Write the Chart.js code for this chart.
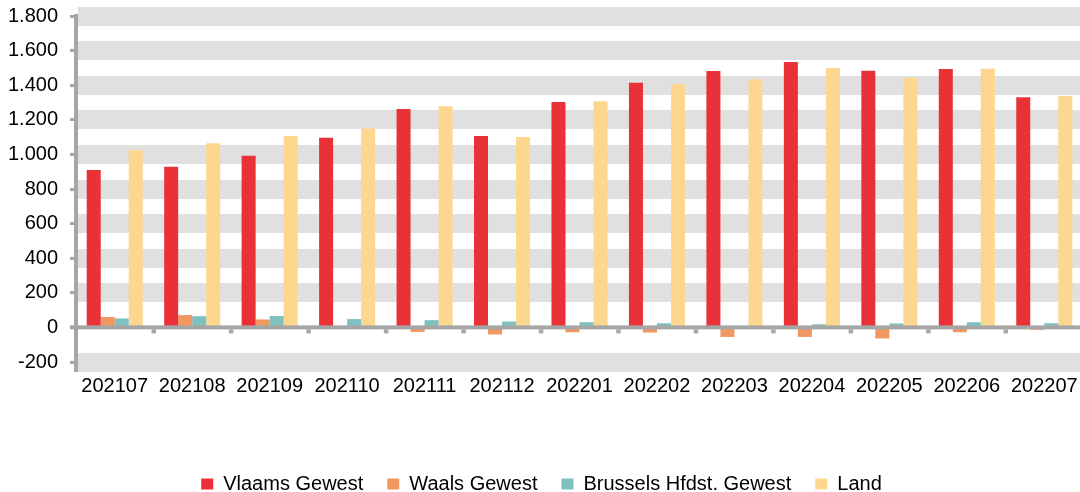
<!DOCTYPE html>
<html>
<head>
<meta charset="utf-8">
<title>Gewesten</title>
<script src="https://cdn.jsdelivr.net/npm/chart.js@4.4.0/dist/chart.umd.min.js"></script>
<style>
  html, body { margin: 0; padding: 0; background: #fff; overflow: hidden; }
  /* plot runs a few px past the right edge, like the original */
  .chart-wrap { width: 1083px; height: 492px; }
</style>
</head>
<body>
<div class="chart-wrap"><canvas id="js-chartjs-gewesten"></canvas></div>
<script>
// Data
const months = ['202107', '202108', '202109', '202110', '202111', '202112', '202201', '202202', '202203', '202204', '202205', '202206', '202207'];
const vlaams = [910, 928, 992, 1096, 1262, 1106, 1303, 1414, 1482, 1534, 1484, 1493, 1330];
const waals = [60, 71, 46, 3, -26, -41, -28, -30, -55, -55, -64, -28, -14];
const brussel = [52, 65, 66, 48, 42, 34, 30, 24, 4, 18, 23, 30, 24];
const land = [1025, 1064, 1106, 1150, 1278, 1100, 1307, 1407, 1434, 1499, 1443, 1495, 1338];

const yMin = -200;
const yMax = 1800;
const yStep = 200;

// Colors
const axisColor = '#a6a6a6';
const bandColor = '#e0e0e0';

class pageGewesten {
  // 1.800 style labels
  static fmt(v) {
    return String(v).replace(/\B(?=(\d{3})+(?!\d))/g, '.');
  }

  static initChart() {
    Chart.defaults.font.family = '"Liberation Sans", Arial, sans-serif';
    Chart.defaults.font.size = 20;
    Chart.defaults.color = '#000';

    // zero line with small category ticks under it
    const zeroAxis = {
      id: 'zeroAxis',
      afterDatasetsDraw(chart) {
        const {ctx, chartArea, scales} = chart;
        const y0 = scales.y.getPixelForValue(0);
        ctx.save();
        ctx.fillStyle = axisColor;
        ctx.fillRect(chartArea.left - 6, y0 - 2, chartArea.right - chartArea.left + 6, 4);
        for (let i = 1; i < months.length; i++) {
          let xb = (scales.x.getPixelForValue(i - 1) + scales.x.getPixelForValue(i)) / 2;
          ctx.fillRect(xb - 2, y0 + 2, 4.5, 4);
        }
        ctx.restore();
      }
    };

    let chartCon = document.getElementById('js-chartjs-gewesten');

    let chartData = {
      labels: months,
      datasets: [
        {label: 'Vlaams Gewest', data: vlaams, backgroundColor: 'rgb(233, 50, 56)'},
        {label: 'Waals Gewest', data: waals, backgroundColor: 'rgb(241, 151, 97)'},
        {label: 'Brussels Hfdst. Gewest', data: brussel, backgroundColor: 'rgb(127, 192, 192)'},
        {label: 'Land', data: land, backgroundColor: 'rgb(253, 214, 143)'}
      ]
    };

    new Chart(chartCon, {
      type: 'bar',
      data: chartData,
      options: {
        responsive: true,
        maintainAspectRatio: false,
        animation: false,
        layout: {padding: {top: 16, right: 0, bottom: -12, left: 0}},
        datasets: {bar: {categoryPercentage: 0.7235, barPercentage: 1, borderWidth: 0}},
        plugins: {
          legend: {
            position: 'bottom',
            labels: {boxWidth: 12, boxHeight: 11, padding: 24, color: '#000', font: {size: 20}}
          },
          tooltip: {enabled: false}
        },
        scales: {
          x: {
            grid: {display: false},
            border: {display: false},
            ticks: {padding: 4, maxRotation: 0, autoSkip: false},
            afterFit(scale) { scale.height += 48; }
          },
          y: {
            min: yMin,
            max: yMax,
            ticks: {stepSize: yStep, padding: 12, callback: v => pageGewesten.fmt(v)},
            grid: {
              color: c => (c.tick && c.tick.value === 0) ? 'rgba(0,0,0,0)' : bandColor,
              lineWidth: c => (c.tick && c.tick.value === 0) ? 0 : 19,
              tickColor: axisColor,
              tickWidth: 3,
              tickLength: 6
            },
            border: {color: axisColor, width: 4},
            afterFit(scale) {
              scale.width = 76;
              scale.paddingTop = 0;
              scale.paddingBottom = 0;
            }
          }
        }
      },
      plugins: [zeroAxis]
    });
  }

  static init() {
    this.initChart();
  }
}

pageGewesten.init();
</script>
</body>
</html>
